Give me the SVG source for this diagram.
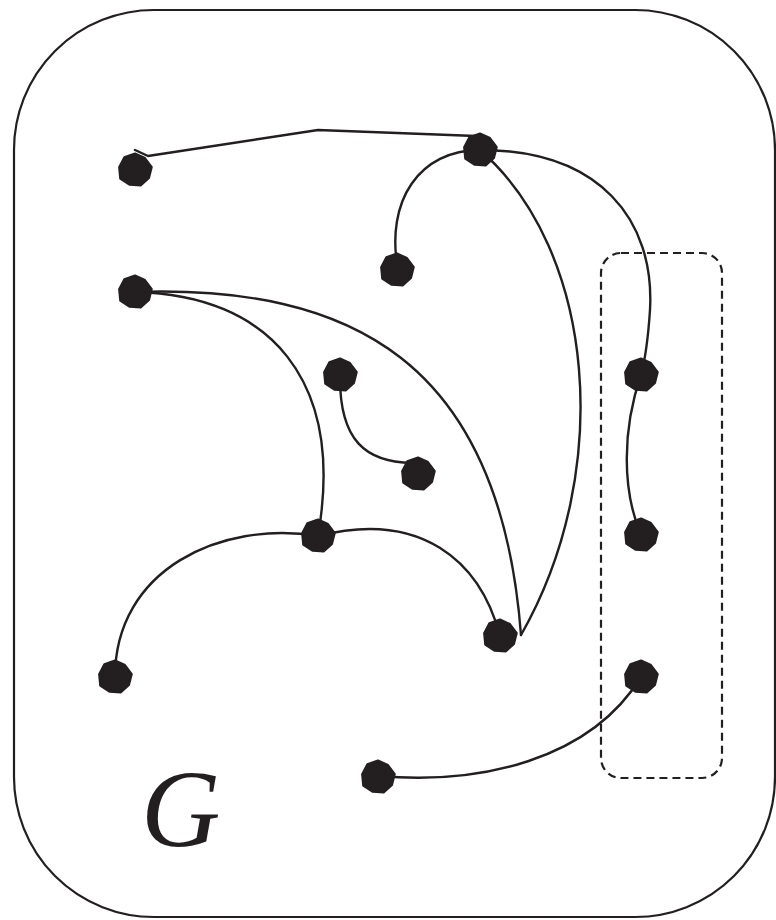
<svg xmlns="http://www.w3.org/2000/svg" width="776" height="920" viewBox="0 0 776 920">
  <style>
    .frame { fill: none; stroke: #231f20; stroke-width: 2.2; }
    .group { fill: none; stroke: #231f20; stroke-width: 2.2; stroke-dasharray: 8 5; }
    .edge { fill: none; stroke: #231f20; stroke-width: 2.4; stroke-linecap: round; stroke-linejoin: round; }
    .dot { fill: #231f20; stroke: #231f20; stroke-width: 2; stroke-linejoin: round; }
    .label { font-family: "Liberation Serif", "Times New Roman", serif; font-style: italic; font-size: 110px; fill: #231f20; }
  </style>
  <defs>
    <!-- slightly irregular nine-sided vertex blob -->
    <polygon id="vtx" class="dot" points="0,-16.5 10,-12 16.8,-3 14,8 5.7,15.6 -5.3,14.8 -14.8,8.6 -15.9,-2.8 -10.7,-12.8"/>
  </defs>

  <rect class="frame" x="14" y="10" width="761" height="907" rx="140" ry="140"/>
  <rect class="group" x="601" y="253" width="121" height="525" rx="20" ry="20"/>

  <g id="edges">
    <polyline class="edge" points="135,150 148,156 318,130 476,136"/>
    <path class="edge" d="M480,150 C420,150 385,200 398,270"/>
    <path class="edge" d="M480,150 C600,150 655,220 650,310 C648,340 645,360 641,375"/>
    <path class="edge" d="M641,375 C622,430 622,490 641,535"/>
    <path class="edge" d="M480,150 C595,250 615,470 521,635"/>
    <path class="edge" d="M135,292 C350,285 500,360 521,635"/>
    <path class="edge" d="M135,292 C270,295 345,380 318,536"/>
    <path class="edge" d="M340,378 C340,440 365,462 412,463"/>
    <path class="edge" d="M318,536 C220,520 115,570 115,677"/>
    <path class="edge" d="M318,536 C420,510 480,560 500,636"/>
    <path class="edge" d="M641,677 C590,760 480,785 378,776"/>
  </g>

  <g id="n1"><use href="#vtx" x="135" y="170"/></g>
  <g id="n2"><use href="#vtx" x="480" y="150"/></g>
  <g id="n3"><use href="#vtx" x="397" y="270"/></g>
  <g id="n4"><use href="#vtx" x="135" y="292"/></g>
  <g id="n5"><use href="#vtx" x="340" y="375"/></g>
  <g id="n6"><use href="#vtx" x="418" y="474"/></g>
  <g id="n7"><use href="#vtx" x="641" y="375"/></g>
  <g id="n8"><use href="#vtx" x="641" y="535"/></g>
  <g id="n9"><use href="#vtx" x="318" y="536"/></g>
  <g id="n10"><use href="#vtx" x="500" y="636"/></g>
  <g id="n11"><use href="#vtx" x="115" y="677"/></g>
  <g id="n12"><use href="#vtx" x="641" y="677"/></g>
  <g id="n13"><use href="#vtx" x="378" y="777"/></g>

  <text class="label" x="141" y="846">G</text>
</svg>
